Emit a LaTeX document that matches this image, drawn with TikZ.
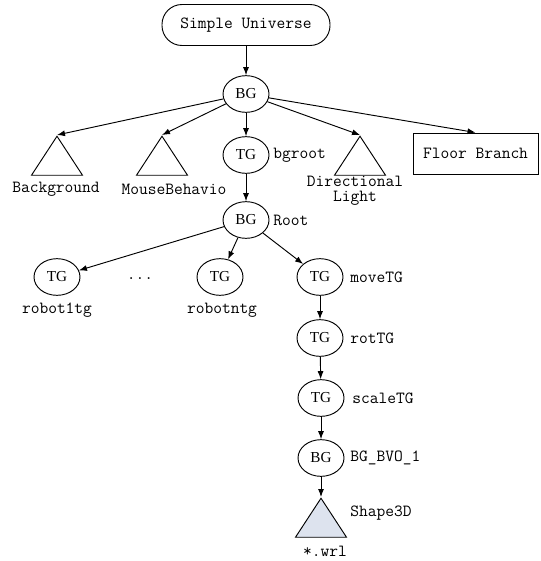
\documentclass[tikz,border=0pt]{standalone}
\usepackage{fontspec}
\setmainfont{Liberation Serif}
\usetikzlibrary{shapes.geometric, arrows.meta}

\definecolor{shapefill}{RGB}{221,227,238}

\tikzset{
  grp/.style={draw, ellipse, inner sep=0pt, minimum width=1.38cm, minimum height=1.1cm,
    font=\rmfamily\fontsize{13}{15}\selectfont},
  leaf/.style={draw, isosceles triangle, shape border rotate=90, isosceles triangle stretches,
    inner sep=0pt, minimum width=1.53cm, minimum height=1.17cm, anchor=apex},
  lbl/.style={font=\ttfamily\fontsize{14.5}{14}\selectfont, inner sep=0pt},
}

\begin{document}
\begin{tikzpicture}[x=0.03cm, y=-0.03cm, line width=0.8pt, >={Latex[length=2.4mm,width=1.8mm]}]
		\useasboundingbox (0,0) rectangle (541,561);
		% top of the scene graph
		\draw (246,25) node[draw, rounded corners=0.6cm, minimum width=5.04cm, minimum height=1.23cm, lbl] (su) {Simple Universe}
		(246,94) node[grp] (bg) {BG}
		(57,135) node[leaf] (bgnd) {}
		(162,135) node[leaf] (mouse) {}
		(246,155) node[grp] (bgroot) {TG}
		(360,135) node[leaf] (light) {}
		(475.5,153.5) node[draw, minimum width=3.75cm, minimum height=1.23cm, lbl] (floor) {Floor Branch};
		
		\node[lbl] (bgndtxt) at (56,189) {Background};
		\node[lbl] (mousetxt) at (174,189) {MouseBehavio};
		\node[lbl, anchor=west] (bgroottxt) at (273,155) {bgroot};
		\node[lbl, align=center, font=\ttfamily\fontsize{14.5}{13}\selectfont] (lighttxt) at (355,191) {Directional\\Light};
		
		% robots
		\draw (246,220) node[grp] (root) {BG}
		(57,277) node[grp] (r1) {TG}
		(220,277) node[grp] (rn) {TG}
		(320,277) node[grp] (move) {TG}
		(320,338) node[grp] (rot) {TG}
		(321,398) node[grp] (scale) {TG}
		(321,458) node[grp] (bvo) {BG}
		(321,497) node[leaf, fill=shapefill] (shape) {};
		
		\node[lbl, anchor=west] (roottxt) at (273,220) {Root};
		\node[lbl] (r1txt) at (57,310) {robot1tg};
		\node[lbl] (dots) at (140,279) {...};
		\node[lbl] (rntxt) at (222,310) {robotntg};
		\node[lbl, anchor=west] (movetxt) at (350,277) {moveTG};
		\node[lbl, anchor=west] (rottxt) at (350,338) {rotTG};
		\node[lbl, anchor=west] (scaletxt) at (352,398) {scaleTG};
		\node[lbl, anchor=west] (bvotxt) at (350,458) {BG\_BVO\_1};
		\node[lbl, anchor=west] (shapetxt) at (350,513) {Shape3D};
		\node[lbl] (wrltxt) at (325,551) {*.wrl};
		
		\draw[->] (su) -- (bg);
		\draw[->] (bg) -- (bgnd.apex);
		\draw[->] (bg) -- (mouse.apex);
		\draw[->] (bg) -- (bgroot);
		\draw[->] (bg) -- (light.apex);
		\draw[->] (bg) -- (floor.north);
		\draw[->] (bgroot) -- (root);
		\draw[->] (root) -- (r1);
		\draw[->] (root) -- (rn);
		\draw[->] (root) -- (move);
		\draw[->] (move) -- (rot);
		\draw[->] (rot) -- (scale);
		\draw[->] (scale) -- (bvo);
		\draw[->] (bvo) -- (shape.apex);
	\end{tikzpicture}
\end{document}
